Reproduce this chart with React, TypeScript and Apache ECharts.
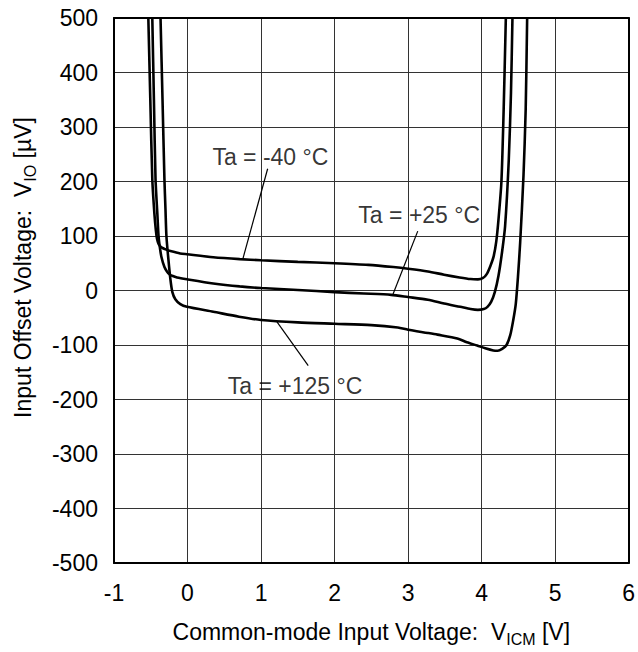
import React, { useEffect, useRef } from "react";
import * as echarts from "echarts";

// Ta = -40 °C
const m40X = [-0.533, -0.506, -0.479, -0.45, -0.43, -0.415, -0.395, -0.37, -0.34, -0.29, -0.233, -0.1, -0.008, 0.35, 0.71, 1.0, 1.5, 2.0, 2.46, 2.8, 3.0, 3.27, 3.49, 3.7, 3.85, 3.95, 4.02, 4.07, 4.12, 4.165, 4.2, 4.23, 4.27, 4.3, 4.33];
const m40Y = [500, 350, 204, 140, 110, 95, 86, 81, 78, 75, 72.5, 68, 66.5, 61, 57.5, 55.5, 52.5, 50, 47, 43, 40, 35, 29, 24, 21, 20.5, 23, 30, 45, 63, 90, 130, 200, 330, 500];

// Ta = +25 °C
const p25X = [-0.479, -0.457, -0.435, -0.41, -0.394, -0.375, -0.354, -0.314, -0.28, -0.246, -0.2, -0.143, -0.008, 0.35, 0.71, 1.0, 1.5, 2.0, 2.4, 2.77, 3.0, 3.27, 3.49, 3.71, 3.85, 3.95, 4.03, 4.08, 4.13, 4.18, 4.23, 4.28, 4.32, 4.37, 4.4, 4.42];
const p25Y = [500, 350, 204, 140, 100, 78, 61, 43, 35, 30, 26.5, 24, 20.7, 13, 7.5, 4.5, 1, -3, -5.5, -8, -12, -17, -24, -30, -34, -35.5, -34, -30, -21, -3, 27, 72, 118, 240, 363, 500];

// Ta = +125 °C
const p125X = [-0.367, -0.34, -0.314, -0.3, -0.287, -0.26, -0.233, -0.206, -0.166, -0.098, -0.008, 0.35, 0.7, 1.0, 1.5, 2.0, 2.5, 2.86, 3.0, 3.27, 3.4, 3.67, 3.8, 3.94, 4.05, 4.16, 4.22, 4.28, 4.34, 4.39, 4.43, 4.465, 4.495, 4.525, 4.57, 4.6, 4.62];
const p125Y = [500, 350, 204, 150, 100, 57, 21, -3, -16, -25, -30, -39, -48, -54, -58.5, -61, -63.5, -68, -72, -78, -81, -88, -95, -101, -106, -110, -110.5, -107, -100, -82, -55, -25, 25, 88, 210, 332, 500];

// annotations (data coordinates)
const labelTexts = ["Ta = -40 °C", "Ta = +25 °C", "Ta = +125 °C"];
const labelPos = [[1.127, 245.4], [3.152, 137.9], [1.463, -175.8]];
const leaders = [
  [[1.09, 223.4], [0.754, 58.6]],
  [[3.132, 109], [2.795, -6.8]],
  [[1.217, -57.5], [1.642, -138]],
];

const FONT = "'Liberation Sans', Arial, sans-serif";

const zip = (xs: number[], ys: number[]) => xs.map((x, i) => [x, ys[i]]);

export default function App() {
  const ref = useRef<HTMLDivElement>(null);
  useEffect(() => {
    if (!ref.current) return;
    const chart = echarts.init(ref.current, undefined, { renderer: "svg" });
    const curveStyle = { color: "#000", width: 2.6 };
    const subRich = {
      sub: { fontSize: 16, fontFamily: FONT, color: "#000", verticalAlign: "bottom", lineHeight: 22 },
    };
    const series: any[] = [
      { type: "line", data: zip(m40X, m40Y), smooth: 0.25, symbol: "none", lineStyle: curveStyle },
      { type: "line", data: zip(p25X, p25Y), smooth: 0.25, symbol: "none", lineStyle: curveStyle },
      { type: "line", data: zip(p125X, p125Y), smooth: 0.25, symbol: "none", lineStyle: curveStyle },
    ];
    leaders.forEach((seg) => {
      series.push({ type: "line", data: seg, symbol: "none", lineStyle: { color: "#000", width: 1.2 } });
    });
    series.push({
      type: "scatter",
      symbolSize: 0,
      data: labelPos.map((p, i) => ({ value: p, name: labelTexts[i] })),
      label: {
        show: true,
        position: "inside",
        formatter: (p: any) => p.name,
        fontSize: 23,
        fontFamily: FONT,
        color: "#000",
      },
    });
    const frameLine = { show: true, onZero: false, lineStyle: { color: "#000", width: 2 } };
    chart.setOption({
      animation: false,
      backgroundColor: "#fff",
      grid: { left: 113, right: 5, top: 18, bottom: 88 },
      xAxis: [
        {
          type: "value",
          min: -1,
          max: 6,
          interval: 1,
          name: "Common-mode Input Voltage:  V{sub|ICM} [V]",
          nameLocation: "middle",
          nameGap: 54,
          nameTextStyle: { fontSize: 23, fontFamily: FONT, color: "#000", lineHeight: 30, rich: subRich },
          axisLine: frameLine,
          axisTick: { show: false },
          axisLabel: { fontSize: 23, fontFamily: FONT, color: "#000", margin: 18 },
          splitLine: { show: true, lineStyle: { color: "#333", width: 1 } },
        },
        {
          type: "value",
          position: "top",
          min: -1,
          max: 6,
          interval: 1,
          axisLine: frameLine,
          axisTick: { show: false },
          axisLabel: { show: false },
          splitLine: { show: false },
        },
      ],
      yAxis: [
        {
          type: "value",
          min: -500,
          max: 500,
          interval: 100,
          name: "Input Offset Voltage:  V{sub|IO} [µV]",
          nameLocation: "middle",
          nameRotate: 90,
          nameGap: 76,
          nameTextStyle: {
            fontSize: 23,
            fontFamily: FONT,
            color: "#000",
            lineHeight: 30,
            padding: [0, 0, 0, 46],
            rich: subRich,
          },
          axisLine: frameLine,
          axisTick: { show: false },
          axisLabel: { fontSize: 23, fontFamily: FONT, color: "#000", margin: 16 },
          splitLine: { show: true, lineStyle: { color: "#333", width: 1 } },
        },
        {
          type: "value",
          position: "right",
          min: -500,
          max: 500,
          interval: 100,
          axisLine: frameLine,
          axisTick: { show: false },
          axisLabel: { show: false },
          splitLine: { show: false },
        },
      ],
      series,
    });
    return () => chart.dispose();
  }, []);
  return <div ref={ref} style={{ width: 638, height: 652, position: "fixed", left: 0, top: 0 }} />;
}
